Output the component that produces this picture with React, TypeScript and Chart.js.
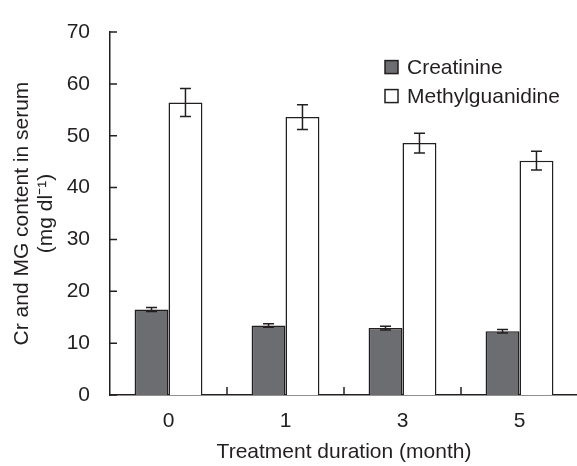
import React, { useEffect, useRef } from 'react';
import { Chart, registerables } from 'chart.js';

Chart.register(...registerables);

const categories = ['0', '1', '3', '5'];
const creatinine = [16.5, 13.4, 12.9, 12.3];
const creatinineErr = [0.4, 0.35, 0.35, 0.35];
const methylguanidine = [56.4, 53.6, 48.6, 45.2];
const methylguanidineErr = [2.7, 2.4, 1.9, 1.8];
const yMin = 0;
const yMax = 70;
const yStep = 10;

const INK = '#231f20';
const GREY = '#6c6d71';
const FONT = '"Liberation Sans", Arial, Helvetica, sans-serif';

const errorBarPlugin = {
  id: 'errorBars',
  afterDatasetsDraw(chart: any) {
    const ctx = chart.ctx;
    const y = chart.scales.y;
    chart.data.datasets.forEach((ds: any, di: number) => {
      const meta = chart.getDatasetMeta(di);
      const capHalf = ds.capHalf || 5;
      meta.data.forEach((bar: any, i: number) => {
        const v = ds.data[i];
        const e = ds.errors[i];
        const x = bar.x;
        const yTop = y.getPixelForValue(v + e);
        const yBot = y.getPixelForValue(v - e);
        ctx.save();
        ctx.strokeStyle = INK;
        ctx.lineWidth = 1.5;
        ctx.beginPath();
        ctx.moveTo(x, yTop);
        ctx.lineTo(x, yBot);
        ctx.moveTo(x - capHalf, yTop);
        ctx.lineTo(x + capHalf, yTop);
        ctx.moveTo(x - capHalf, yBot);
        ctx.lineTo(x + capHalf, yBot);
        ctx.stroke();
        ctx.restore();
      });
    });
  },
};

const innerTicksPlugin = {
  id: 'innerTicks',
  afterDraw(chart: any) {
    const ctx = chart.ctx;
    const { left, bottom } = chart.chartArea;
    const y = chart.scales.y;
    const x = chart.scales.x;
    ctx.save();
    ctx.strokeStyle = INK;
    ctx.lineWidth = 1.5;
    ctx.beginPath();
    y.ticks.forEach((t: any) => {
      const py = y.getPixelForValue(t.value);
      ctx.moveTo(left, py);
      ctx.lineTo(left + 7, py);
    });
    for (let i = 0; i < categories.length - 1; i++) {
      const px = (x.getPixelForTick(i) + x.getPixelForTick(i + 1)) / 2;
      ctx.moveTo(px, bottom);
      ctx.lineTo(px, bottom - 8);
    }
    ctx.stroke();
    ctx.restore();
  },
};

const boxLegendPlugin = {
  id: 'boxLegend',
  afterDraw(chart: any) {
    const ctx = chart.ctx;
    const { right, top } = chart.chartArea;
    const boxX = right - 193;
    const rows = [top + 35, top + 64];
    ctx.save();
    chart.data.datasets.forEach((ds: any, i: number) => {
      const cy = rows[i];
      ctx.fillStyle = ds.backgroundColor;
      ctx.fillRect(boxX, cy - 6.5, 13, 13);
      ctx.strokeStyle = INK;
      ctx.lineWidth = 1.5;
      ctx.strokeRect(boxX, cy - 6.5, 13, 13);
      ctx.fillStyle = INK;
      ctx.font = `21px ${FONT}`;
      ctx.textAlign = 'left';
      ctx.textBaseline = 'middle';
      ctx.fillText(ds.label, boxX + 22, cy + 1);
    });
    ctx.restore();
  },
};

export default function App() {
  const ref = useRef<HTMLCanvasElement | null>(null);

  useEffect(() => {
    if (!ref.current) return;
    const chart = new Chart(ref.current, {
      type: 'bar',
      data: {
        labels: categories,
        datasets: [
          {
            label: 'Creatinine',
            data: creatinine,
            errors: creatinineErr,
            capHalf: 5.5,
            backgroundColor: GREY,
            borderColor: INK,
            borderWidth: 1.5,
          } as any,
          {
            label: 'Methylguanidine',
            data: methylguanidine,
            errors: methylguanidineErr,
            capHalf: 5.5,
            backgroundColor: '#ffffff',
            borderColor: INK,
            borderWidth: 1.5,
          } as any,
        ],
      },
      options: {
        responsive: false,
        animation: false,
        categoryPercentage: 0.58,
        barPercentage: 1.0,
        layout: { padding: { top: 17, right: 2, bottom: 0, left: 0 } },
        plugins: {
          legend: { display: false },
          tooltip: { enabled: false },
          title: { display: false },
        },
        scales: {
          x: {
            grid: { display: false, drawTicks: false },
            border: { display: true, color: INK, width: 1.5 },
            ticks: {
              color: INK,
              padding: 14,
              font: { family: FONT, size: 21, lineHeight: 1.15 },
            },
            title: {
              display: true,
              text: 'Treatment duration (month)',
              color: INK,
              font: { family: FONT, size: 21, lineHeight: 1.15 },
              padding: { top: 0, bottom: 2 },
            },
            afterFit(scale: any) {
              scale.height = 71;
            },
          },
          y: {
            min: yMin,
            max: yMax,
            grid: { display: false, drawTicks: false },
            border: { display: true, color: INK, width: 1.5 },
            ticks: {
              stepSize: yStep,
              color: INK,
              padding: 20,
              font: { family: FONT, size: 21, lineHeight: 1.15 },
            },
            title: {
              display: true,
              text: ['Cr and MG content in serum', '(mg dl\u207B\u00B9)'],
              color: INK,
              font: { family: FONT, size: 21, lineHeight: 1.15 },
              padding: { top: 10, bottom: 0 },
            },
            afterFit(scale: any) {
              scale.width = 110;
            },
          },
        },
      } as any,
      plugins: [errorBarPlugin, innerTicksPlugin, boxLegendPlugin],
    });
    return () => chart.destroy();
  }, []);

  return (
    <div
      style={{
        position: 'fixed',
        left: 0,
        top: 0,
        width: 577,
        height: 466,
        overflow: 'hidden',
        background: '#ffffff',
      }}
    >
      <canvas ref={ref} width={580} height={466} style={{ display: 'block' }} />
    </div>
  );
}
